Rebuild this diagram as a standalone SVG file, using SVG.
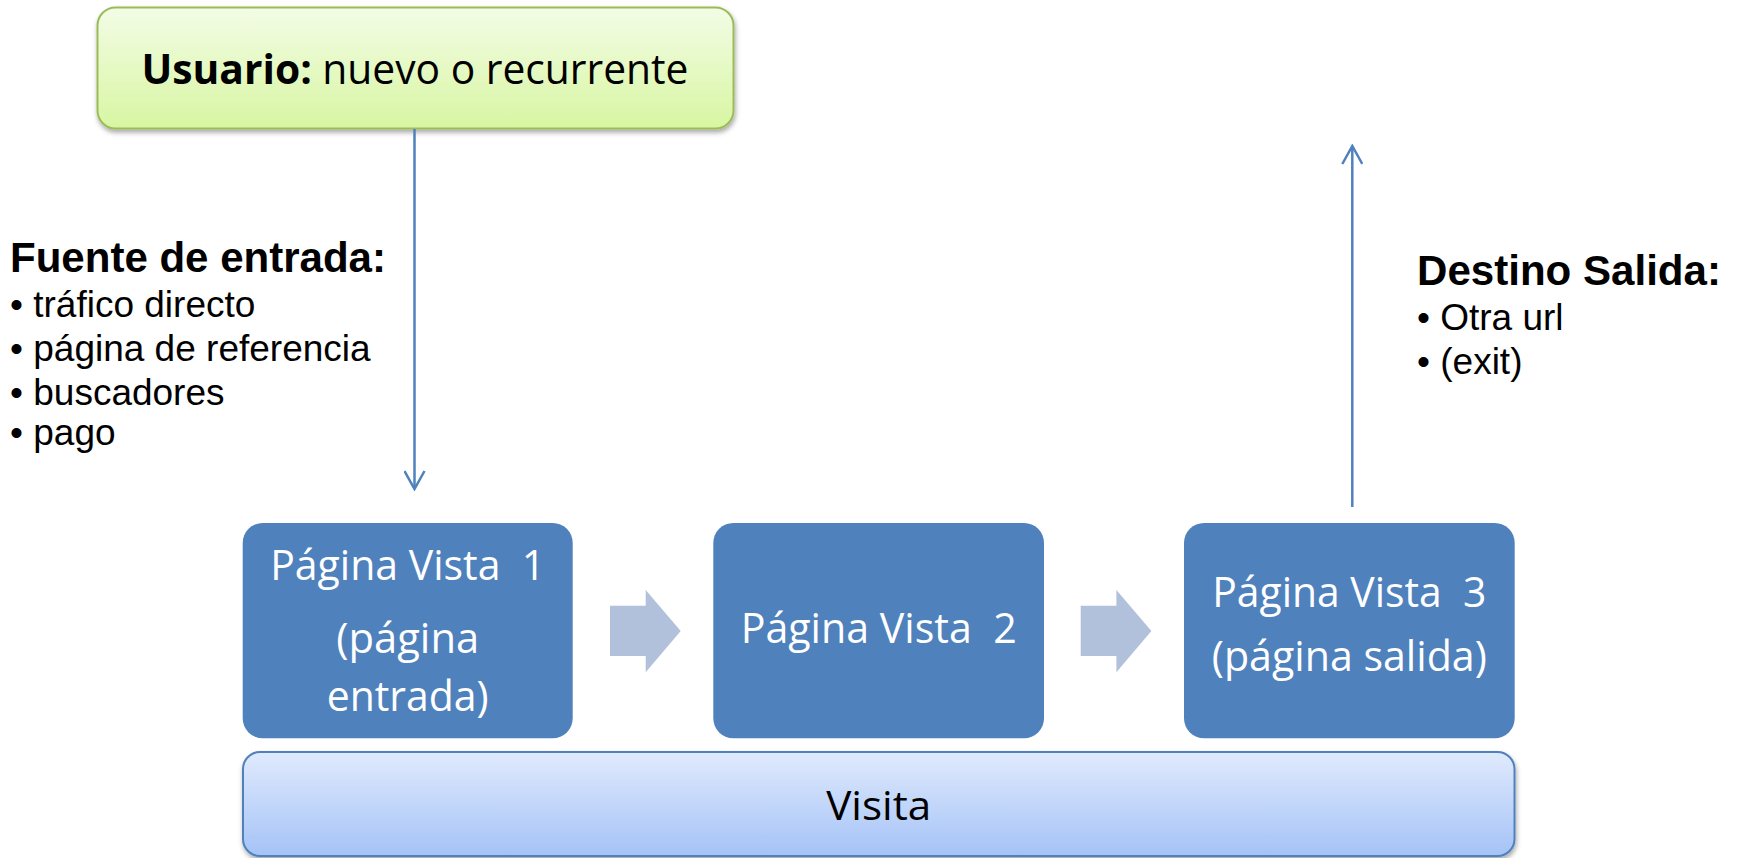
<svg xmlns="http://www.w3.org/2000/svg" width="1742" height="858" viewBox="0 0 1742 858">
<defs>
<linearGradient id="gGreen" x1="0" y1="0" x2="0" y2="1"><stop offset="0" stop-color="#f3fce6"/><stop offset="1" stop-color="#d8f6a2"/></linearGradient>
<linearGradient id="gBlue" x1="0" y1="0" x2="0" y2="1"><stop offset="0" stop-color="#e0eafc"/><stop offset="1" stop-color="#a5c3f7"/></linearGradient>
<filter id="sh" x="-5%" y="-10%" width="110%" height="130%"><feDropShadow dx="1" dy="3" stdDeviation="2.5" flood-color="#000" flood-opacity="0.35"/></filter>
<marker id="open" viewBox="0 0 22 22" refX="20" refY="11" markerWidth="22" markerHeight="22" markerUnits="userSpaceOnUse" orient="auto"><path d="M2,1 L20,11 L2,21" fill="none" stroke="#4f81bd" stroke-width="2.5"/></marker>
<style>
.pg{fill:#4f81bd}
.pt{font-family:"Open Sans","Noto Sans",sans-serif;font-size:42px;fill:#fff;text-anchor:middle;white-space:pre}
.lbl{font-family:"Liberation Sans",Arial,sans-serif;fill:#000}
.h{font-size:42px;font-weight:bold}
.it{font-size:37px}
.con{stroke:#4f81bd;stroke-width:2.5;fill:none}
.blk{fill:#b2c1db}
</style>
</defs>
<g id="usuario">
<rect x="97.5" y="7.5" width="636" height="121" rx="18" fill="url(#gGreen)" stroke="#9bbb59" stroke-width="2" filter="url(#sh)"/>
<text x="415" y="84" font-family="'Open Sans','Noto Sans',sans-serif" font-size="42" text-anchor="middle" fill="#000" textLength="547" lengthAdjust="spacingAndGlyphs"><tspan font-weight="bold">Usuario:</tspan> nuevo o recurrente</text>
</g>
<g id="fuente">
<text x="10" y="272" class="lbl h" textLength="376" lengthAdjust="spacingAndGlyphs">Fuente de entrada:</text>
<text x="10" y="317" class="lbl it">• tráfico directo</text>
<text x="10" y="361" class="lbl it">• página de referencia</text>
<text x="10" y="405" class="lbl it">• buscadores</text>
<text x="10" y="445" class="lbl it">• pago</text>
</g>
<g id="destino">
<text x="1417" y="285" class="lbl h" textLength="304" lengthAdjust="spacingAndGlyphs">Destino Salida:</text>
<text x="1417" y="330" class="lbl it">• Otra url</text>
<text x="1417" y="374" class="lbl it">• (exit)</text>
</g>
<g id="pv1">
<rect x="242.7" y="523" width="330" height="215.3" rx="20" class="pg"/>
<text x="407.7" y="580" class="pt" textLength="275" lengthAdjust="spacingAndGlyphs">Página Vista  1</text>
<text x="407.7" y="653" class="pt" textLength="143" lengthAdjust="spacingAndGlyphs">(página</text>
<text x="407.7" y="711" class="pt" textLength="162" lengthAdjust="spacingAndGlyphs">entrada)</text>
</g>
<g id="pv2">
<rect x="713.3" y="523" width="330.7" height="215.3" rx="20" class="pg"/>
<text x="878.7" y="643" class="pt" textLength="276" lengthAdjust="spacingAndGlyphs">Página Vista  2</text>
</g>
<g id="pv3">
<rect x="1184" y="523" width="330.7" height="215.3" rx="20" class="pg"/>
<text x="1349.3" y="607" class="pt" textLength="274" lengthAdjust="spacingAndGlyphs">Página Vista  3</text>
<text x="1349.3" y="671" class="pt" textLength="275" lengthAdjust="spacingAndGlyphs">(página salida)</text>
</g>
<g id="visita">
<rect x="243" y="752" width="1271.5" height="104" rx="17" fill="url(#gBlue)" stroke="#4f81bd" stroke-width="2" filter="url(#sh)"/>
<text x="878.7" y="820" font-family="'Open Sans','Noto Sans',sans-serif" font-size="41" text-anchor="middle" fill="#000" textLength="105" lengthAdjust="spacingAndGlyphs">Visita</text>
</g>
<g id="connectors">
<line x1="414.5" y1="129" x2="414.5" y2="489" class="con" marker-end="url(#open)"/>
<line x1="1352.3" y1="507" x2="1352.3" y2="146" class="con" marker-end="url(#open)"/>
<path d="M610,605.7 L645.7,605.7 L645.7,590 L680.7,631 L645.7,672.3 L645.7,656 L610,656 Z" class="blk"/>
<path d="M1080.7,605.7 L1116.4,605.7 L1116.4,590 L1151.4,631 L1116.4,672.3 L1116.4,656 L1080.7,656 Z" class="blk"/>
</g>
</svg>
